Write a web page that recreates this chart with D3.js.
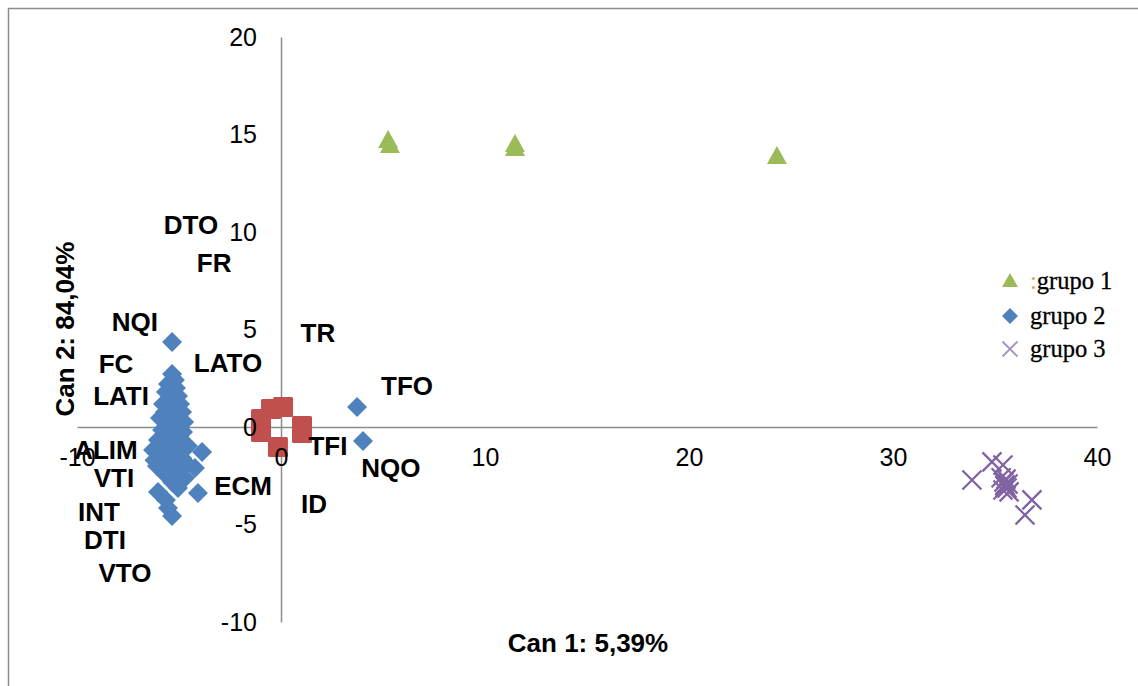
<!DOCTYPE html>
<html>
<head>
<meta charset="utf-8">
<script src="https://cdn.jsdelivr.net/npm/d3@7"></script>
<style>
body { margin: 0; background: #fff; }
</style>
</head>
<body>
<script>
// grupo 1 (triangles)
var grupo1 = [[5.25, 14.67], [5.34, 14.41], [11.47, 14.46], [11.47, 14.26], [24.31, 13.85]];

// grupo 2 (diamonds)
var grupo2 = [
  [-5.34, 4.36], [-5.34, 2.72], [-5.20, 2.41], [-5.54, 2.21], [-5.15, 2.00],
  [-5.64, 1.79], [-5.05, 1.59], [-5.44, 1.38], [-5.78, 1.18], [-4.95, 1.18],
  [-5.34, 0.97], [-5.69, 0.77], [-4.85, 0.77], [-5.20, 0.56], [-5.93, 0.46],
  [-5.54, 0.26], [-4.75, 0.26], [-5.15, 0.05], [-5.83, -0.15], [-4.80, -0.26],
  [-5.44, -0.46], [-6.03, -0.67], [-4.95, -0.67], [-5.69, -0.97], [-4.56, -0.97],
  [-6.27, -1.18], [-5.20, -1.18], [-3.87, -1.28], [-5.83, -1.49], [-4.85, -1.59],
  [-5.44, -1.79], [-6.08, -2.00], [-4.22, -2.10], [-5.05, -2.21], [-5.69, -2.41],
  [-4.71, -2.62], [-5.34, -2.82], [-6.03, -3.33], [-4.07, -3.38], [-5.05, -3.13],
  [-5.64, -3.74], [-5.34, -4.56], [-5.54, -4.15], [-6.20, -1.70], [-4.60, -1.90],
  [3.73, 1.03], [4.02, -0.72]
];

// grupo 3 (crosses)
var grupo3 = [
  [34.85, -1.79], [33.87, -2.72], [35.39, -1.95], [35.49, -2.97], [36.81, -3.74],
  [36.47, -4.51], [35.30, -2.60], [35.44, -2.82], [35.59, -3.13], [35.69, -3.33],
  [35.39, -3.23], [35.54, -2.67], [35.49, -3.03], [35.64, -2.92]
];

// red squares (not in legend)
var grupoR = [[-0.49, 0.92], [0.10, 1.03], [-0.98, 0.41], [-0.98, -0.26],
  [1.03, 0.05], [1.03, -0.31], [-0.15, -1.03]];

// variable labels
var varNames = ["DTO", "FR", "NQI", "FC", "LATO", "LATI", "TR", "TFO", "TFI", "NQO",
  "ALIM", "VTI", "ECM", "ID", "INT", "DTI", "VTO"];
var varX = [-4.41, -3.28, -7.16, -8.09, -2.60, -7.84, 1.81, 6.18, 2.30, 5.39,
  -8.58, -8.19, -1.86, 1.62, -8.92, -8.63, -7.65];
var varY = [10.36, 8.41, 5.38, 3.23, 3.28, 1.59, 4.82, 2.10, -0.97, -2.10,
  -1.18, -2.62, -3.03, -3.95, -4.36, -5.79, -7.49];

var xTicks = [-10, 0, 10, 20, 30, 40];
var yTicks = [-10, -5, 0, 5, 10, 15, 20];
var legendLabels = ["grupo 1", "grupo 2", "grupo 3"];

var width = 1138, height = 686;
var sans = "'Liberation Sans', Arial, sans-serif";
var serif = "'Liberation Serif', 'Times New Roman', serif";

var svg = d3.select("body").append("svg")
    .attr("width", width)
    .attr("height", height);

svg.append("rect")
    .attr("x", 8.5).attr("y", 8.5)
    .attr("width", 1140).attr("height", 700)
    .attr("fill", "#fff")
    .attr("stroke", "#8c8c8c")
    .attr("stroke-width", 1.5);

var x = d3.scaleLinear().domain([-10, 40]).range([77, 1097]);
var y = d3.scaleLinear().domain([-10, 20]).range([622, 37]);

var fmt = function(d) { return String(d); };
var xAxis = d3.axisBottom(x).tickValues(xTicks).tickFormat(fmt).tickSize(0).tickPadding(21);
var yAxis = d3.axisLeft(y).tickValues(yTicks).tickFormat(fmt).tickSize(0).tickPadding(24);

// axis lines under the marks
svg.append("g").attr("class", "axis-line")
    .attr("transform", "translate(0," + y(0) + ")")
    .call(xAxis)
    .call(function(g) { g.selectAll(".tick").remove(); });
svg.append("g").attr("class", "axis-line")
    .attr("transform", "translate(" + x(0) + ",0)")
    .call(yAxis)
    .call(function(g) { g.selectAll(".tick").remove(); });
svg.selectAll(".axis-line .domain")
    .attr("stroke", "#8c8c8c")
    .attr("stroke-width", 1.5);

// marks
var tri = "M0,-11L10,7L-10,7Z";
var dia = "M0,-10L10,0L0,10L-10,0Z";
var crs = "M-9.5,-9.5L9.5,9.5M-9.5,9.5L9.5,-9.5";

svg.append("g").selectAll("rect")
    .data(grupoR)
    .enter().append("rect")
    .attr("x", function(d) { return x(d[0]) - 10; })
    .attr("y", function(d) { return y(d[1]) - 10; })
    .attr("width", 20).attr("height", 20)
    .attr("rx", 1.5)
    .attr("fill", "#C0504D");

svg.append("g").selectAll("path")
    .data(grupo2)
    .enter().append("path")
    .attr("d", dia)
    .attr("transform", function(d) { return "translate(" + x(d[0]) + "," + y(d[1]) + ")"; })
    .attr("fill", "#4F81BD");

svg.append("g").selectAll("path")
    .data(grupo1)
    .enter().append("path")
    .attr("d", tri)
    .attr("transform", function(d) { return "translate(" + x(d[0]) + "," + y(d[1]) + ")"; })
    .attr("fill", "#9BBB59");

svg.append("g").selectAll("path")
    .data(grupo3)
    .enter().append("path")
    .attr("d", crs)
    .attr("transform", function(d) { return "translate(" + x(d[0]) + "," + y(d[1]) + ")"; })
    .attr("fill", "none")
    .attr("stroke", "#8064A2")
    .attr("stroke-width", 2.3);

// tick labels on top of the marks
var gx = svg.append("g")
    .attr("transform", "translate(0," + y(0) + ")")
    .call(xAxis);
var gy = svg.append("g")
    .attr("transform", "translate(" + x(0) + ",0)")
    .call(yAxis);
[gx, gy].forEach(function(g) {
  g.attr("font-family", null).attr("font-size", null);
  g.select(".domain").remove();
  g.selectAll("text")
    .style("font-family", sans)
    .style("font-size", "25px")
    .attr("fill", "#000");
});

// variable names
svg.append("g").selectAll("text")
    .data(varNames)
    .enter().append("text")
    .attr("x", function(d, i) { return x(varX[i]); })
    .attr("y", function(d, i) { return y(varY[i]); })
    .attr("dy", "0.35em")
    .attr("text-anchor", "middle")
    .style("font-family", sans)
    .style("font-size", "26px")
    .style("font-weight", "bold")
    .text(function(d) { return d; });

// axis titles
svg.append("text")
    .attr("x", 588).attr("y", 643)
    .attr("dy", "0.35em")
    .attr("text-anchor", "middle")
    .style("font-family", sans)
    .style("font-size", "26px")
    .style("font-weight", "bold")
    .text("Can 1: 5,39%");

svg.append("text")
    .attr("transform", "translate(65,329) rotate(-90)")
    .attr("dy", "0.35em")
    .attr("text-anchor", "middle")
    .style("font-family", sans)
    .style("font-size", "26px")
    .style("font-weight", "bold")
    .text("Can 2: 84,04%");

// legend
var legend = svg.append("g").attr("transform", "translate(1010,0)");
var legY = [281, 316, 349];
var legShapes = [
  {d: "M0,-8L8,6L-8,6Z", fill: "#9BBB59", stroke: "none"},
  {d: "M0,-8L8,0L0,8L-8,0Z", fill: "#4F81BD", stroke: "none"},
  {d: "M-7.5,-7.5L7.5,7.5M-7.5,7.5L7.5,-7.5", fill: "none", stroke: "#A592C3"}
];
legShapes.forEach(function(s, i) {
  legend.append("path")
    .attr("d", s.d)
    .attr("transform", "translate(0," + legY[i] + ")")
    .attr("fill", s.fill)
    .attr("stroke", s.stroke)
    .attr("stroke-width", 1.8);
  var t = legend.append("text")
    .attr("x", i == 0 ? 20 : 20)
    .attr("y", legY[i] + 8)
    .style("font-family", serif)
    .style("font-size", "24.5px")
    .attr("fill", "#000")
    .attr("stroke", "#000")
    .attr("stroke-width", 0.3);
  if (i == 0) {
    t.append("tspan").attr("fill", "#E0A050").attr("stroke", "none").text(":");
  }
  t.append("tspan").text(legendLabels[i]);
});
</script>
</body>
</html>
